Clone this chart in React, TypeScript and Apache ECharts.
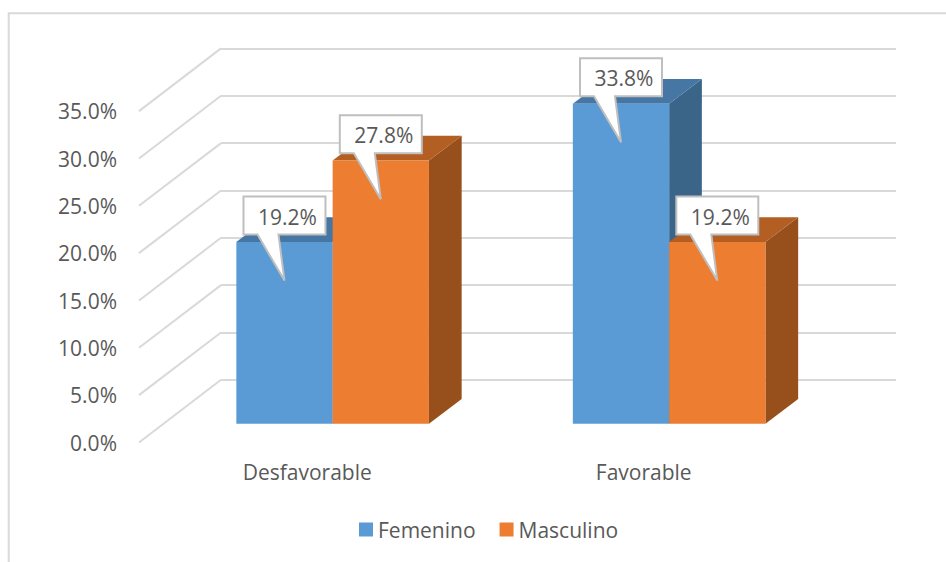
import React, { useEffect, useRef } from "react";
import * as echarts from "echarts";

const categories = ["Desfavorable", "Favorable"];
const femenino = [19.2, 33.8];
const masculino = [27.8, 19.2];
const axisTicks = [0, 5, 10, 15, 20, 25, 30, 35];

const FONT = "'Open Sans', sans-serif";
const FONT_SIZE = 21;
const TEXT = "#595959";
const GRID_LINE = "#D9D9D9";

// Projection of the 3-D scene: floor depth, bar depth and where the bars stand on the floor.
const FLOOR_DX = 82;
const FLOOR_DY = 62.7;
const BAR_DX = 32.7;
const BAR_DY = 24.7;
const PLANE_DX = 25.4;
const PLANE_DY = 19;
const BAR_RATIO = 0.2862;

type Palette = { front: string; side: string; top: string };
const BLUE: Palette = { front: "#5B9BD5", side: "#3A6589", top: "#4676A3" };
const ORANGE: Palette = { front: "#ED7D31", side: "#97501C", top: "#B35E22" };

const formatPercent = (v: number) => `${v.toFixed(1)}%`;

function renderBar(palette: Palette, side: -1 | 0) {
  return (_params: any, api: any) => {
    const cat = api.value(0);
    const val = api.value(1);
    const [cx, yTop] = api.coord([cat, val]);
    const [, yBase] = api.coord([cat, 0]);
    const w = api.size([1, 0])[0] * BAR_RATIO;
    const x0 = cx + PLANE_DX + side * w;
    const x1 = x0 + w;
    const top = yTop - PLANE_DY;
    const base = yBase - PLANE_DY;

    // Speech-bubble label whose tip lands inside the front face of the bar.
    const tipX = (x0 + x1) / 2;
    const tipY = top + 38.7;
    const boxL = tipX - 41;
    const boxR = tipX + 41;
    const boxT = tipY - 84;
    const boxB = tipY - 46;
    const bubble = [
      [boxL, boxT],
      [boxR, boxT],
      [boxR, boxB],
      [tipX - 6, boxB],
      [tipX, tipY],
      [tipX - 27, boxB],
      [boxL, boxB],
    ];

    return {
      type: "group",
      children: [
        {
          type: "polygon",
          shape: { points: [[x1, top], [x1 + BAR_DX, top - BAR_DY], [x1 + BAR_DX, base - BAR_DY], [x1, base]] },
          style: { fill: palette.side },
        },
        {
          type: "polygon",
          shape: { points: [[x0, top], [x0 + BAR_DX, top - BAR_DY], [x1 + BAR_DX, top - BAR_DY], [x1, top]] },
          style: { fill: palette.top },
        },
        {
          type: "rect",
          shape: { x: x0, y: top, width: w, height: base - top },
          style: { fill: palette.front },
        },
        {
          type: "polygon",
          shape: { points: bubble },
          style: { fill: "#FFFFFF", stroke: "#BFBFBF", lineWidth: 2 },
        },
        {
          type: "text",
          style: {
            text: formatPercent(val),
            x: tipX + 3,
            y: tipY - 64,
            align: "center",
            verticalAlign: "middle",
            fill: TEXT,
            fontFamily: FONT,
            fontSize: FONT_SIZE,
          },
        },
      ],
    };
  };
}

// Slanted floor lines that join each wall gridline to its tick label.
function renderFloorLine(_params: any, api: any) {
  const [x, y] = api.coord([0, api.value(1)]);
  return {
    type: "line",
    shape: { x1: x, y1: y, x2: x - FLOOR_DX, y2: y + FLOOR_DY },
    style: { stroke: GRID_LINE, lineWidth: 2 },
  };
}

export default function App() {
  const ref = useRef<HTMLDivElement>(null);

  useEffect(() => {
    const chart = echarts.init(ref.current!, undefined, { renderer: "svg" });
    chart.setOption({
      animation: false,
      backgroundColor: "#FFFFFF",
      textStyle: { fontFamily: FONT },
      graphic: [
        {
          type: "polyline",
          shape: { points: [[946, 13.3], [8.7, 13.3], [8.7, 562]] },
          style: { stroke: GRID_LINE, lineWidth: 2, fill: "none" },
          silent: true,
        },
      ],
      legend: {
        data: ["Femenino", "Masculino"],
        left: 359,
        top: 519,
        padding: 0,
        itemWidth: 14,
        itemHeight: 14,
        itemGap: 24,
        icon: "rect",
        textStyle: { color: TEXT, fontFamily: FONT, fontSize: FONT_SIZE },
        selectedMode: false,
      },
      grid: [
        { left: 221, top: 48.4, width: 675, height: 331.4 },
        { left: 139, top: 111.3, width: 673, height: 331.4 },
      ],
      xAxis: [
        { type: "value", gridIndex: 0, min: 0, max: 1, show: false },
        {
          type: "category",
          gridIndex: 1,
          data: categories,
          axisLine: { show: false },
          axisTick: { show: false },
          axisLabel: { color: TEXT, fontFamily: FONT, fontSize: FONT_SIZE, margin: 19 },
        },
      ],
      yAxis: [
        {
          type: "value",
          gridIndex: 0,
          min: 0,
          max: 35,
          interval: 5,
          axisLine: { show: false },
          axisTick: { show: false },
          axisLabel: { show: false },
          splitLine: { lineStyle: { color: GRID_LINE, width: 2 } },
        },
        {
          type: "value",
          gridIndex: 1,
          min: 0,
          max: 35,
          interval: 5,
          axisLine: { show: false },
          axisTick: { show: false },
          splitLine: { show: false },
          axisLabel: {
            color: TEXT,
            fontFamily: FONT,
            fontSize: FONT_SIZE,
            margin: 22,
            padding: [2, 0, 0, 0],
            formatter: (v: number) => formatPercent(v),
          },
        },
      ],
      series: [
        {
          type: "custom",
          name: "floor",
          xAxisIndex: 0,
          yAxisIndex: 0,
          renderItem: renderFloorLine,
          data: axisTicks.map((t) => [0, t]),
          silent: true,
        },
        {
          type: "custom",
          name: "Femenino",
          xAxisIndex: 1,
          yAxisIndex: 1,
          itemStyle: { color: BLUE.front },
          renderItem: renderBar(BLUE, -1),
          data: femenino.map((v, i) => [i, v]),
          encode: { x: 0, y: 1 },
        },
        {
          type: "custom",
          name: "Masculino",
          xAxisIndex: 1,
          yAxisIndex: 1,
          itemStyle: { color: ORANGE.front },
          renderItem: renderBar(ORANGE, 0),
          data: masculino.map((v, i) => [i, v]),
          encode: { x: 0, y: 1 },
        },
      ],
    });
    return () => chart.dispose();
  }, []);

  return (
    <div
      ref={ref}
      style={{ position: "fixed", left: 0, top: 0, width: 946, height: 562 }}
    />
  );
}
